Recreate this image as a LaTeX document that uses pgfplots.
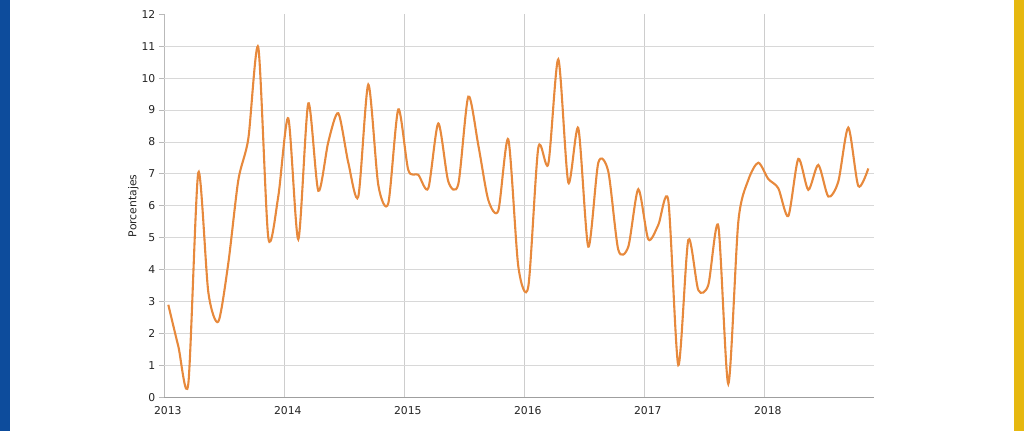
\documentclass[border=0pt]{standalone}
\usepackage{pgfplots}
\pgfplotsset{compat=1.18}
\usepackage{fontspec}
\setmainfont{DejaVu Sans}
\definecolor{lineor}{RGB}{231,137,60}
\definecolor{barblue}{RGB}{13,76,156}
\definecolor{baryellow}{RGB}{230,184,15}
\definecolor{gridc}{RGB}{216,216,216}
\definecolor{vgridc}{RGB}{205,205,205}
\definecolor{txt}{RGB}{35,35,35}
\begin{document}
\begin{tikzpicture}
\useasboundingbox (0,0) rectangle (1024pt,431pt);
\fill[barblue] (0,0) rectangle (10pt,431pt);
\fill[baryellow] (1014pt,0) rectangle (1024pt,431pt);
\begin{axis}[
  at={(164.3pt,33.7pt)}, anchor=south west,
  scale only axis, width=709.7pt, height=383pt,
  xmin=0, xmax=70.97, ymin=0, ymax=12,
  axis x line*=bottom, axis y line*=left,
  x axis line style={draw=gray!75, line width=1.6pt, -},
  y axis line style={draw=gray!55, line width=0.8pt, -},
  xtick={0,12,24,36,48,60},
  xticklabels={2013,2014,2015,2016,2017,2018},
  x tick style={draw=none},
  xmajorgrids, major x grid style={draw=vgridc, line width=0.8pt},
  ytick={0,1,...,12},
  tick align=outside, major tick length=5.5pt,
  y tick style={draw=gray!55, line width=0.8pt},
  extra y ticks={1,2,...,11}, extra y tick labels={},
  extra y tick style={grid=major, major grid style={draw=gridc, line width=0.8pt}},
  /pgf/number format/assume math mode=true,
  tick label style={font=\fontsize{10.8}{13}\selectfont, text=txt},
  xticklabel style={xshift=3.5pt},
  ylabel={Porcentajes},
  every axis y label/.style={at={(axis description cs:0,0.5)}, xshift=-31pt, rotate=90, anchor=center, font=\fontsize{10.8}{13}\selectfont, text=txt},
]
\addplot[lineor, line width=2.1pt, smooth, tension=0.45] coordinates {
(0.4,2.9) (1.4,1.6) (2.4,0.42) (3.4,7.04) (4.4,3.3) (5.4,2.37) (6.4,4.2) (7.4,6.8)
(8.4,8.1) (9.4,10.96) (10.4,5.0) (11.4,6.3) (12.4,8.74) (13.4,4.95) (14.4,9.21)
(15.4,6.47) (16.4,8.0) (17.4,8.9) (18.4,7.35) (19.4,6.29) (20.4,9.8) (21.4,6.65)
(22.4,6.08) (23.4,9.02) (24.4,7.12) (25.4,6.97) (26.4,6.55) (27.4,8.58) (28.4,6.76)
(29.4,6.68) (30.4,9.42) (31.4,7.9) (32.4,6.18) (33.4,5.85) (34.4,8.08) (35.4,4.1)
(36.4,3.47) (37.4,7.82) (38.4,7.31) (39.4,10.59) (40.4,6.73) (41.4,8.43) (42.4,4.72)
(43.4,7.35) (44.4,7.07) (45.4,4.62) (46.4,4.72) (47.4,6.52) (48.4,4.95) (49.4,5.4)
(50.4,6.16) (51.4,1.01) (52.4,4.93) (53.4,3.36) (54.4,3.52) (55.4,5.37) (56.4,0.42)
(57.4,5.5) (58.4,6.81) (59.4,7.35) (60.4,6.84) (61.4,6.55) (62.4,5.68) (63.4,7.47)
(64.4,6.5) (65.4,7.28) (66.4,6.29) (67.4,6.76) (68.4,8.45) (69.4,6.62) (70.4,7.17)
};
\end{axis}
\end{tikzpicture}
\end{document}
